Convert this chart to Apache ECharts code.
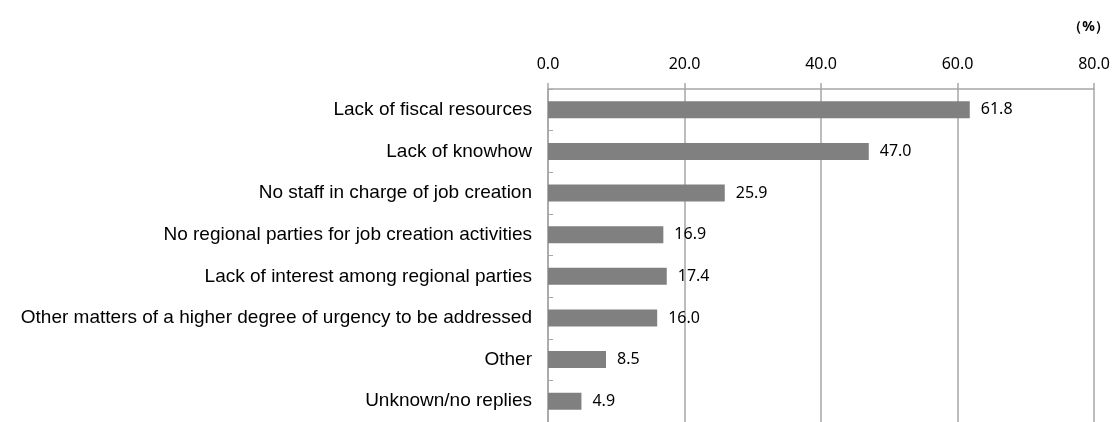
<!DOCTYPE html>
<html>
<head>
<meta charset="utf-8">
<script src="https://cdn.jsdelivr.net/npm/echarts@6/dist/echarts.min.js"></script>
<style>html,body{margin:0;padding:0;background:#fff;}#c{width:1113px;height:422px;}</style>
</head>
<body>
<div id="c"></div>
<script>
const categories = [
  "Lack of fiscal resources",
  "Lack of knowhow",
  "No staff in charge of job creation",
  "No regional parties for job creation activities",
  "Lack of interest among regional parties",
  "Other matters of a higher degree of urgency to be addressed",
  "Other",
  "Unknown/no replies"
];
const values = [61.8, 47.0, 25.9, 16.9, 17.4, 16.0, 8.5, 4.9];
const unitLabel = "（%）";

const chart = echarts.init(document.getElementById('c'));
chart.setOption({
  animation: false,
  backgroundColor: '#fff',
  grid: { left: 548, right: 19, top: 89, bottom: -4, containLabel: false },
  graphic: [{
    type: 'text', right: 4, top: 20,
    style: { text: unitLabel, font: 'bold 14px "Noto Sans"', fill: '#000' }
  }],
  xAxis: {
    type: 'value', position: 'top', min: 0, max: 80, interval: 20,
    axisLine: { show: true, lineStyle: { color: '#a6a6a6', width: 1.5 } },
    axisTick: { show: true, length: 6, lineStyle: { color: '#a6a6a6', width: 1.5 } },
    splitLine: { show: true, lineStyle: { color: '#a6a6a6', width: 1.5 } },
    axisLabel: { formatter: v => v.toFixed(1), fontSize: 16, fontFamily: 'Noto Sans', color: '#000', margin: 17 }
  },
  yAxis: {
    type: 'category', inverse: true, data: categories,
    axisLine: { show: true, lineStyle: { color: '#a6a6a6', width: 1.5 } },
    axisTick: { show: true, inside: true, length: 5, lineStyle: { color: '#a6a6a6' } },
    axisLabel: { fontSize: 19, fontFamily: 'Liberation Sans', color: '#000', margin: 16 }
  },
  series: [{
    type: 'bar', data: values, barWidth: 17,
    itemStyle: { color: '#808080' },
    label: { show: true, position: 'right', distance: 11, formatter: p => p.value.toFixed(1),
      fontSize: 16, fontFamily: 'Noto Sans', color: '#000' }
  }]
});
</script>
</body>
</html>
